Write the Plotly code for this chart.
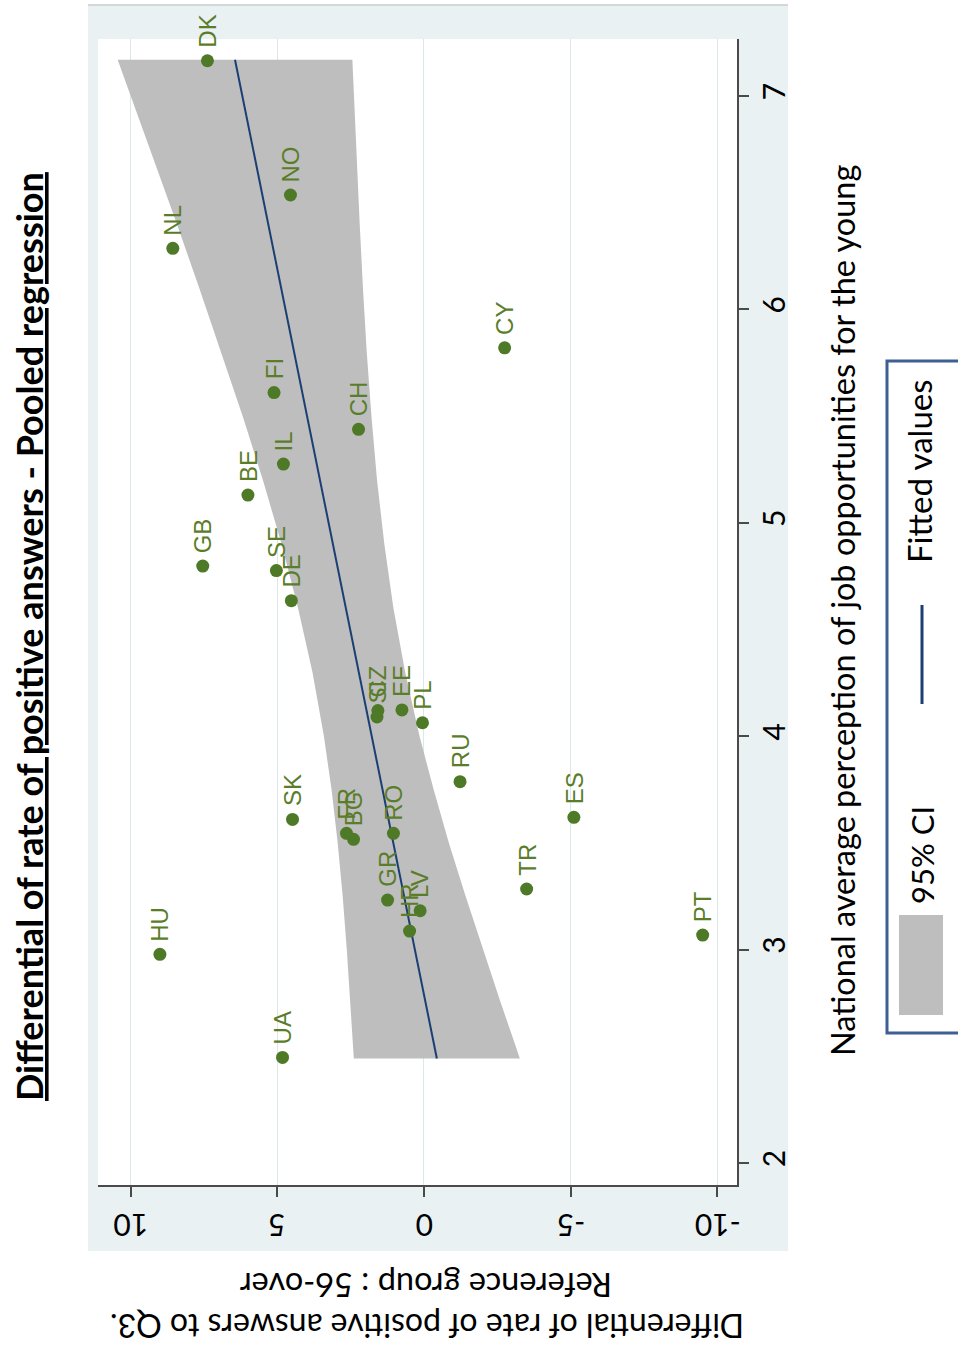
import plotly.graph_objects as go

# ---------------- data ----------------
countries = ["DK", "NO", "NL", "CY", "FI", "CH", "IL", "BE", "GB", "SE", "DE", "CZ", "SI", "EE",
             "PL", "RU", "SK", "ES", "FR", "BG", "RO", "TR", "GR", "LV", "HR", "HU", "PT", "UA"]
perception = [7.165, 6.536, 6.286, 5.82, 5.61, 5.438, 5.275, 5.13, 4.797, 4.776, 4.635, 4.12, 4.09, 4.123,
              4.063, 3.787, 3.61, 3.62, 3.545, 3.517, 3.545, 3.284, 3.232, 3.182, 3.087, 2.978, 3.068, 2.495]
differential = [7.38, 4.55, 8.56, -2.75, 5.11, 2.23, 4.79, 6.00, 7.54, 5.03, 4.52, 1.57, 1.60, 0.75,
                0.05, -1.23, 4.48, -5.11, 2.64, 2.40, 1.04, -3.50, 1.24, 0.13, 0.49, 9.00, -9.50, 4.82]

fit_perc = [2.49, 7.17]
fit_diff = [-0.44, 6.44]

ci_perc = [2.49, 2.75, 3.0, 3.25, 3.5, 3.75, 4.0, 4.3, 4.6, 4.9, 5.2, 5.5, 5.8, 6.1, 6.4, 6.7, 7.17]
ci_upper = [2.39, 2.50, 2.63, 2.77, 2.94, 3.15, 3.41, 3.80, 4.29, 4.85, 5.49, 6.18, 6.91, 7.66, 8.42, 9.20, 10.44]
ci_lower = [-3.27, -2.62, -2.01, -1.42, -0.85, -0.33, 0.15, 0.64, 1.04, 1.35, 1.60, 1.79, 1.95, 2.08, 2.19, 2.30, 2.44]

x_ticks = [10, 5, 0, -5, -10]
x_ticklabels = ["10", "5", "0", "-5", "-10"]
y_ticks = [2, 3, 4, 5, 6, 7]

title_text = "Differential of rate of positive answers - Pooled regression"
xtitle_text = "National average perception of job opportunities for the young"
ytitle_line1 = "Reference group : 56-over"
ytitle_line2 = "Differential of rate of positive answers to Q3."
legend_labels = ["95% CI", "Fitted values"]

# ---------------- layout geometry (pixels) ----------------
W, H = 958, 1349
PL, PR, PT, PB = 98, 737, 39, 1185


def px(x):
    return (x - PL) / (PR - PL)


def py(y):
    return (PB - y) / (PB - PT)


GREEN = "#4E7A27"
LABEL = "#5A7D2A"
NAVY = "#1B3F72"
GRAY = "#BEBEBE"
BG = "#E9F1F3"
CAL = "Lato, 'Open Sans', sans-serif"
ARIAL = "'Liberation Sans', Arial, sans-serif"

fig = go.Figure()

# CI band
fig.add_trace(go.Scatter(
    x=ci_upper + ci_lower[::-1], y=ci_perc + ci_perc[::-1],
    mode="lines", fill="toself", fillcolor=GRAY, line=dict(width=0, color=GRAY),
    hoverinfo="skip", showlegend=False))

# fitted line
fig.add_trace(go.Scatter(x=fit_diff, y=fit_perc, mode="lines",
                         line=dict(color=NAVY, width=2), showlegend=False))

# points
fig.add_trace(go.Scatter(x=differential, y=perception, mode="markers",
                         marker=dict(size=13, color=GREEN), showlegend=False))

annotations = []
for c, d, p in zip(countries, differential, perception):
    annotations.append(dict(x=d, y=p, xref="x", yref="y", text=c, showarrow=False,
                            textangle=-90, xanchor="center", yanchor="bottom", yshift=11,
                            font=dict(family=ARIAL, size=24, color=LABEL)))

# upside-down tick labels of the differential axis
for v, t in zip(x_ticks, x_ticklabels):
    annotations.append(dict(x=v, y=py(1226), xref="x", yref="paper", text=t, showarrow=False,
                            textangle=180, xanchor="center", yanchor="middle",
                            font=dict(family=CAL, size=30, color="black")))

# title
annotations.append(dict(x=px(29), y=py(637), xref="paper", yref="paper",
                        text="<b><u>" + title_text + "</u></b>", showarrow=False, textangle=-90,
                        xanchor="center", yanchor="middle",
                        font=dict(family=CAL, size=36, color="black")))
# x axis title (perception)
annotations.append(dict(x=px(842), y=py(611), xref="paper", yref="paper",
                        text=xtitle_text, showarrow=False, textangle=-90,
                        xanchor="center", yanchor="middle",
                        font=dict(family=CAL, size=32.5, color="black")))
# y axis title (differential), upside down
annotations.append(dict(x=px(426), y=py(1286), xref="paper", yref="paper",
                        text=ytitle_line1, showarrow=False, textangle=180,
                        xanchor="center", yanchor="middle",
                        font=dict(family=CAL, size=32.5, color="black")))
annotations.append(dict(x=px(427), y=py(1327), xref="paper", yref="paper",
                        text=ytitle_line2, showarrow=False, textangle=180,
                        xanchor="center", yanchor="middle",
                        font=dict(family=CAL, size=32, color="black")))
# legend texts
annotations.append(dict(x=px(922), y=py(855), xref="paper", yref="paper",
                        text=legend_labels[0], showarrow=False, textangle=-90,
                        xanchor="center", yanchor="middle",
                        font=dict(family=CAL, size=31, color="black")))
annotations.append(dict(x=px(919), y=py(471), xref="paper", yref="paper",
                        text=legend_labels[1], showarrow=False, textangle=-90,
                        xanchor="center", yanchor="middle",
                        font=dict(family=CAL, size=33, color="black")))

shapes = [
    # graph region background
    dict(type="rect", xref="paper", yref="paper", x0=px(88), x1=px(788), y0=py(1251), y1=py(5),
         fillcolor=BG, line=dict(width=0), layer="below"),
    dict(type="line", xref="paper", yref="paper", x0=px(88), x1=px(788), y0=py(5), y1=py(5),
         line=dict(color="#C9CDCE", width=1.5), layer="below"),
    # plot region
    dict(type="rect", xref="paper", yref="paper", x0=0, x1=1, y0=0, y1=1,
         fillcolor="white", line=dict(width=0), layer="below"),
    # legend box
    dict(type="rect", xref="paper", yref="paper", x0=px(887), x1=px(964), y0=py(1033), y1=py(361),
         fillcolor="white", line=dict(color="#3D5F94", width=3)),
    dict(type="rect", xref="paper", yref="paper", x0=px(899), x1=px(943), y0=py(1015), y1=py(915),
         fillcolor=GRAY, line=dict(width=0)),
    dict(type="line", xref="paper", yref="paper", x0=px(922), x1=px(922), y0=py(704), y1=py(605),
         line=dict(color=NAVY, width=3)),
]

fig.update_layout(
    width=W, height=H, autosize=False,
    margin=dict(l=PL, r=W - PR, t=PT, b=H - PB, pad=0),
    paper_bgcolor="white", plot_bgcolor="white",
    showlegend=False,
    xaxis=dict(range=[11.11, -10.67], tickvals=x_ticks, showticklabels=False,
               showgrid=True, gridcolor="#DCE7EB", gridwidth=1.2,
               zeroline=False, showline=True, linecolor="#4A4A4A", linewidth=1.5,
               ticks="outside", ticklen=10, tickcolor="#4A4A4A", tickwidth=1.5),
    yaxis=dict(range=[1.897, 7.267], tickvals=y_ticks, side="right", tickangle=-90,
               showgrid=False, zeroline=False, showline=True, linecolor="#4A4A4A", linewidth=1.5,
               ticks="outside", ticklen=10, tickcolor="#4A4A4A", tickwidth=1.5,
               tickfont=dict(family=CAL, size=30, color="black")),
    annotations=annotations,
    shapes=shapes,
)

fig.write_html("out.html")
